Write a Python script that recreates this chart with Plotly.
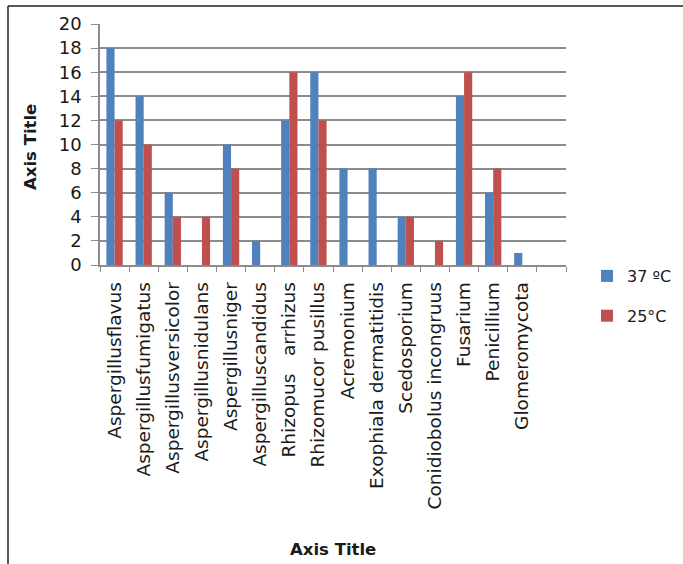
import plotly.graph_objects as go

categories = ["Aspergillusflavus", "Aspergillusfumigatus", "Aspergillusversicolor",
              "Aspergillusnidulans", "Aspergillusniger", "Aspergilluscandidus",
              "Rhizopus   arrhizus", "Rhizomucor pusillus", "Acremonium",
              "Exophiala dermatitidis", "Scedosporium", "Conidiobolus incongruus",
              "Fusarium", "Penicillium", "Glomeromycota", " "]
vals_37 = [18, 14, 6, 0, 10, 2, 12, 16, 8, 8, 4, 0, 14, 6, 1, None]
vals_25 = [12, 10, 4, 4, 8, 0, 16, 12, 0, 0, 4, 2, 16, 8, 0, None]
series_names = ["37 \u00baC", "25\u00b0C"]
y_ticks = list(range(0, 21, 2))

FONT = "DejaVu Sans"
GRID = "#8c8c8c"
TXT = "#1a1a1a"

fig = go.Figure()
fig.add_trace(go.Bar(x=categories, y=vals_37, name=series_names[0],
                     marker=dict(color="#4F81BD", line=dict(width=0)),
                     legendgroup="a"))
fig.add_trace(go.Bar(x=categories, y=vals_25, name=series_names[1],
                     marker=dict(color="#C0504D", line=dict(width=0)),
                     legendgroup="b"))

W0, W1 = 100, 566
H0, H1 = 24, 265
def px_x(p):
    return (p - W0) / (W1 - W0)
def px_y(p):
    return (H1 - p) / (H1 - H0)

fig.update_layout(
    width=683, height=564,
    margin=dict(l=100, r=117, t=24, b=299, autoexpand=False),
    paper_bgcolor="white", plot_bgcolor="white",
    barmode="group", bargap=0.44, bargroupgap=0,
    font=dict(family=FONT, color=TXT),
    showlegend=True,
    legend=dict(x=px_x(587), y=px_y(259), xanchor="left", yanchor="top",
                font=dict(size=16, family=FONT, color=TXT),
                tracegroupgap=16, itemwidth=30, bgcolor="rgba(0,0,0,0)"),
    xaxis=dict(type="category", categoryorder="array", categoryarray=categories,
               tickangle=-90, tickfont=dict(size=18.5, family=FONT, color=TXT),
               ticks="outside", ticklen=5, tickcolor=GRID, tickson="boundaries",
               showline=True, linecolor=GRID, linewidth=1.5,
               showgrid=False, ticklabelstandoff=8, automargin=False),
    yaxis=dict(range=[0, 20], tickvals=y_ticks, tickfont=dict(size=18, family=FONT, color=TXT),
               ticks="outside", ticklen=7, tickcolor=GRID, ticklabelstandoff=6,
               showline=True, linecolor=GRID, linewidth=1.5,
               showgrid=True, gridcolor=GRID, gridwidth=1.5, zeroline=False,
               automargin=False),
    annotations=[
        dict(text="<b>Axis Title</b>", xref="paper", yref="paper",
             x=px_x(30), y=px_y(147), xanchor="center", yanchor="middle",
             textangle=-90, showarrow=False,
             font=dict(size=16.5, family=FONT, color=TXT)),
        dict(text="<b>Axis Title</b>", xref="paper", yref="paper",
             x=px_x(333), y=px_y(549), xanchor="center", yanchor="middle",
             showarrow=False,
             font=dict(size=16.5, family=FONT, color=TXT)),
    ],
    shapes=[
        dict(type="line", xref="paper", yref="paper", x0=px_x(8), x1=px_x(683),
             y0=px_y(6), y1=px_y(6), line=dict(color="#222222", width=1.5)),
        dict(type="line", xref="paper", yref="paper", x0=px_x(8), x1=px_x(8),
             y0=px_y(6), y1=px_y(564), line=dict(color="#222222", width=1.5)),
    ],
)

fig.write_html("out.html")
